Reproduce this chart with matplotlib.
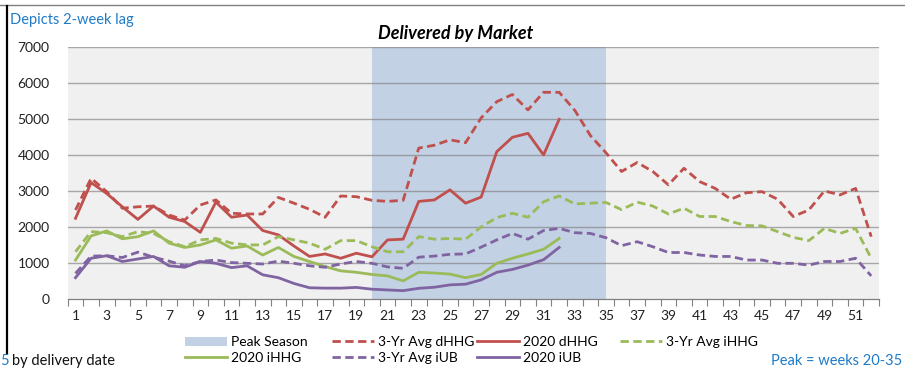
import matplotlib
matplotlib.use("Agg")
import matplotlib.pyplot as plt
from matplotlib.lines import Line2D
from matplotlib.patches import Patch

plt.rcParams["font.family"] = ["Lato", "DejaVu Sans"]

weeks = list(range(1, 53))

avg_dhhg = [2480, 3360, 2990, 2530, 2570, 2590, 2340, 2200, 2620, 2760,
            2390, 2370, 2370, 2830, 2670, 2500, 2280, 2870, 2850, 2750,
            2720, 2750, 4200, 4280, 4430, 4350, 5040, 5490, 5690, 5260,
            5750, 5750, 5250, 4550, 4070, 3550, 3800, 3550, 3180, 3640,
            3270, 3080, 2780, 2960, 2990, 2780, 2300, 2480, 3010, 2900,
            3080, 1740]
dhhg_2020 = [2250, 3240, 2940, 2570, 2220, 2590, 2280, 2160, 1860, 2700,
             2280, 2340, 1910, 1790, 1480, 1190, 1260, 1140, 1280, 1180,
             1650, 1670, 2720, 2760, 3040, 2670, 2840, 4100, 4500, 4610,
             4010, 5000]
avg_ihhg = [1320, 1880, 1850, 1740, 1880, 1830, 1600, 1460, 1650, 1690,
            1560, 1510, 1510, 1740, 1650, 1560, 1390, 1630, 1630, 1460,
            1320, 1320, 1740, 1670, 1690, 1670, 2010, 2270, 2390, 2280,
            2710, 2870, 2650, 2670, 2690, 2490, 2700, 2590, 2370, 2530,
            2300, 2300, 2160, 2050, 2040, 1880, 1720, 1630, 1970, 1830,
            1970, 1140]
ihhg_2020 = [1090, 1760, 1900, 1680, 1740, 1900, 1560, 1440, 1510, 1650,
             1420, 1480, 1230, 1440, 1190, 1050, 910, 790, 750, 690,
             650, 510, 750, 730, 700, 600, 690, 1000, 1140, 1260,
             1390, 1690]
avg_iub = [720, 1200, 1210, 1160, 1310, 1170, 1060, 930, 1050, 1090,
           1020, 1000, 980, 1060, 1000, 930, 890, 980, 1050, 1000,
           900, 860, 1170, 1200, 1250, 1260, 1450, 1650, 1830, 1670,
           1910, 1970, 1850, 1830, 1710, 1490, 1600, 1460, 1300, 1300,
           1230, 1190, 1190, 1090, 1090, 1000, 1000, 950, 1050, 1050,
           1140, 650]
iub_2020 = [600, 1140, 1210, 1050, 1120, 1190, 930, 890, 1050, 1000,
            880, 930, 680, 600, 440, 320, 310, 310, 330, 280,
            260, 240, 305, 335, 400, 420, 540, 750, 830, 950,
            1100, 1440]

peak_weeks = list(range(20, 36))
peak_level = [7000] * len(peak_weeks)

RED = "#C0504D"
GREEN = "#9BBB59"
PURPLE = "#8064A2"
PEAK = "#C3D1E4"
BLUE_TXT = "#1F7BC8"

fig = plt.figure(figsize=(9.05, 3.69), dpi=100)
ax = fig.add_axes([0.0748, 0.1889, 0.8965, 0.6829])
ax.set_facecolor("#F0F0F0")

ax.fill_between(peak_weeks, 0, peak_level, color=PEAK, lw=0, zorder=1)
for y in range(1000, 8000, 1000):
    ax.axhline(y, color="#808080", lw=1.0, alpha=0.65, zorder=2)

lw = 2.0
dash = (3, 1.6)
l_avg_d, = ax.plot(weeks, avg_dhhg, color=RED, lw=lw, ls=(0, dash), zorder=3)
l_2020_d, = ax.plot(weeks[:len(dhhg_2020)], dhhg_2020, color=RED, lw=lw, zorder=3)
l_avg_i, = ax.plot(weeks, avg_ihhg, color=GREEN, lw=lw, ls=(0, dash), zorder=3)
l_2020_i, = ax.plot(weeks[:len(ihhg_2020)], ihhg_2020, color=GREEN, lw=lw, zorder=3)
l_avg_u, = ax.plot(weeks, avg_iub, color=PURPLE, lw=lw, ls=(0, dash), zorder=3)
l_2020_u, = ax.plot(weeks[:len(iub_2020)], iub_2020, color=PURPLE, lw=lw, zorder=3)

ax.set_xlim(0.5, 52.5)
ax.set_ylim(0, 7000)
ax.set_yticks(range(0, 8000, 1000))
ax.tick_params(axis="y", length=0, pad=13, labelsize=10, labelcolor="#222222")
ax.set_xticks(weeks[::2])
ax.set_xticks([w + 0.5 for w in range(0, 53)], minor=True)
ax.tick_params(axis="x", which="major", length=0, pad=8, labelsize=10,
               labelcolor="#222222")
ax.tick_params(axis="x", which="minor", length=5, width=0.8, color="#808080",
               direction="out")
for side in ["top", "left", "right"]:
    ax.spines[side].set_visible(False)
ax.spines["bottom"].set_color("#808080")
ax.spines["bottom"].set_linewidth(0.9)

fig.text(0.504, 0.91, "Delivered by Market", ha="center", va="center",
         fontsize=13, fontweight="bold", fontstyle="italic")
fig.text(0.011, 0.946, "Depicts 2-week lag", ha="left", va="center",
         fontsize=10.5, color=BLUE_TXT)
fig.text(0.0, 0.022, "5", ha="left", va="center", fontsize=10.5, color=BLUE_TXT)
fig.text(0.013, 0.022, "by delivery date", ha="left", va="center", fontsize=10.5,
         color="#111111")
fig.text(0.997, 0.022, "Peak = weeks 20-35", ha="right", va="center",
         fontsize=10.5, color=BLUE_TXT)

# frame lines around the chart
fig.add_artist(Line2D([0, 1], [1 - 5 / 369] * 2, color="#7F7F7F", lw=1.0))
fig.add_artist(Line2D([6.5 / 905] * 2, [1 - 6 / 369, 1 - 353 / 369],
                      color="black", lw=1.6))

# legend in four equal-width columns
peak_patch = Patch(facecolor=PEAK, edgecolor="none")
columns = [
    ([peak_patch, l_2020_i], ["Peak Season", "2020 iHHG"]),
    ([l_avg_d, l_avg_u], ["3-Yr Avg dHHG", "3-Yr Avg iUB"]),
    ([l_2020_d, l_2020_u], ["2020 dHHG", "2020 iUB"]),
    ([l_avg_i], ["3-Yr Avg iHHG"]),
]
col_x = [185, 332, 477, 620]
for (handles, labels), x in zip(columns, col_x):
    fig.legend(handles, labels, loc="upper left",
               bbox_to_anchor=(x / 905, 1 - 336 / 369),
               frameon=False, fontsize=10, handlelength=3.0, handleheight=0.6,
               handletextpad=0.3, labelspacing=0.28, borderpad=0,
               borderaxespad=0)

plt.savefig("out.png", dpi=100)
plt.close()
